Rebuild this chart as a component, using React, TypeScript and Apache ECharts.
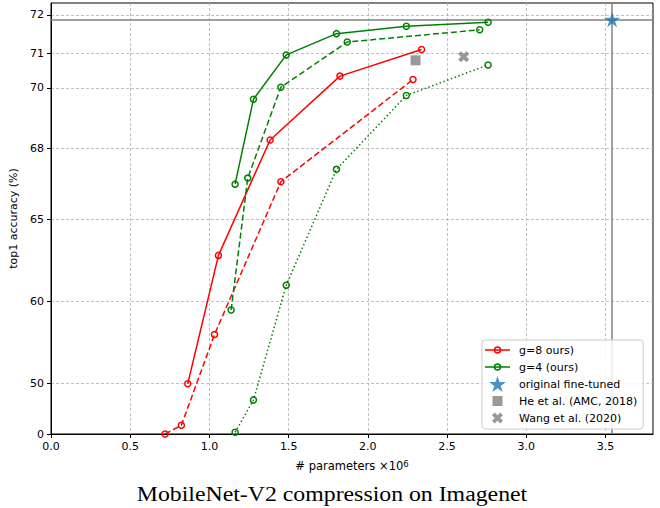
import React, { useEffect, useRef } from "react";
import * as echarts from "echarts";

// Exponential accuracy scale of the reference: axis position ∝ exp(K·acc)
const K = 0.0957;
const toAxis = (a: number) => Math.exp(K * a) - 1;
const fromAxis = (v: number) => Math.log(v + 1) / K;

const X_TICKS = [0, 0.5, 1.0, 1.5, 2.0, 2.5, 3.0, 3.5];
const Y_TICKS = [0, 50, 60, 65, 68, 70, 71, 72];
const X_MAX = 3.8;
const Y_MAX_ACC = 72.29;

// g=8 (red)
const G8_SOLID_PARAMS = [0.863, 1.057, 1.383, 1.824, 2.339];
const G8_SOLID_ACC = [49.9, 63.1, 68.3, 70.35, 71.1];
const G8_DASHED_PARAMS = [0.72, 0.823, 1.032, 1.451, 2.285];
const G8_DASHED_ACC = [0, 32.0, 57.0, 66.7, 70.25];

// g=4 (green)
const G4_PARAMS = [1.162, 1.278, 1.485, 1.802, 2.243, 2.759];
const G4_SOLID_ACC = [66.6, 69.65, 70.95, 71.52, 71.71, 71.81];
const G4_DOTTED_ACC = [16.8, 45.9, 61.2, 67.2, 69.77, 70.67];
const G4_DASHED_PARAMS = [1.137, 1.242, 1.451, 1.87, 2.706];
const G4_DASHED_ACC = [59.3, 66.85, 70.02, 71.3, 71.62];

// references
const ORIGINAL = [3.542, 71.88];
const AMC = [2.301, 70.8];
const WANG = [2.605, 70.9];

const LEGEND_NAMES = [
  "g=8 ours)",
  "g=4 (ours)",
  "original fine-tuned",
  "He et al. (AMC, 2018)",
  "Wang et al. (2020)",
];
const TITLE = "MobileNet-V2 compression on Imagenet";

const STAR =
  "path://M100 0L122.45 69.1L195.11 69.1L136.33 111.8L158.78 180.9L100 138.2L41.22 180.9L63.67 111.8L4.89 69.1L77.55 69.1Z";
const XMARK =
  "path://M50 0L100 50L150 0L200 50L150 100L200 150L150 200L100 150L50 200L0 150L50 100L0 50Z";
// legend icons (bounding box padded with move-to points)
const LEG_LINE =
  "path://M0 -4.25M25 11.75M0 3H25V4.5H0Z M8.75 3.75A3.75 3.75 0 1 1 16.25 3.75A3.75 3.75 0 1 1 8.75 3.75Z M10.25 3.75A2.25 2.25 0 1 0 14.75 3.75A2.25 2.25 0 1 0 10.25 3.75Z";
const LEG_SQUARE = "path://M0 0M16 16M3 3H13V13H3Z";
const LEG_X =
  "path://M0 0M16 16M5.25 2.5L8 5.25L10.75 2.5L13.5 5.25L10.75 8L13.5 10.75L10.75 13.5L8 10.75L5.25 13.5L2.5 10.75L5.25 8L2.5 5.25Z";

const RED = "#ff0000";
const GREEN = "#008000";
const BLUE = "#1f77b4";
const GRAY = "#808080";
const FONT = "DejaVu Sans";

const pts = (xs: number[], ys: number[]) => xs.map((x, i) => [x, toAxis(ys[i])]);

const lineSeries = (name: string, xs: number[], ys: number[], color: string, type: any) => ({
  name,
  type: "line",
  data: pts(xs, ys),
  symbol: "circle",
  symbolSize: 6,
  showSymbol: true,
  lineStyle: { color, width: 1.5, type },
  itemStyle: { color: "rgba(255,255,255,0)", borderColor: color, borderWidth: 1.5 },
  z: 3,
});

export default function App() {
  const ref = useRef<HTMLDivElement>(null);
  useEffect(() => {
    if (!ref.current) return;
    const chart = echarts.init(ref.current, undefined, { renderer: "svg" });
    const gridLine = { show: true, lineStyle: { color: "#b0b0b0", type: [3, 2], width: 0.8 } };
    chart.setOption({
      animation: false,
      backgroundColor: "#ffffff",
      graphic: [
        {
          type: "text",
          x: 332,
          y: 494,
          scaleX: 1.19,
          style: {
            text: TITLE,
            font: '20px "Liberation Serif"',
            fill: "#000",
            align: "center",
            verticalAlign: "middle",
          },
        },
      ],
      grid: { left: 51, right: 7, top: 3, bottom: 74, show: true, borderColor: "#000", borderWidth: 1 },
      xAxis: {
        type: "value",
        min: 0,
        max: X_MAX,
        name: "# parameters ×10{sup|6}",
        nameLocation: "middle",
        nameGap: 25,
        nameTextStyle: {
          fontFamily: FONT,
          fontSize: 11.5,
          color: "#000",
          rich: {
            sup: { fontFamily: FONT, fontSize: 8.5, color: "#000", verticalAlign: "top", lineHeight: 14 },
          },
        },
        axisLine: { lineStyle: { color: "#000", width: 1 } },
        axisTick: { show: true, length: 4, inside: false, customValues: X_TICKS, lineStyle: { color: "#000" } },
        axisLabel: {
          customValues: X_TICKS,
          margin: 7,
          fontFamily: FONT,
          fontSize: 11,
          color: "#000",
          formatter: (v: number) => v.toFixed(1),
        },
        splitLine: gridLine,
      },
      yAxis: {
        type: "value",
        min: 0,
        max: toAxis(Y_MAX_ACC),
        name: "top1 accuracy (%)",
        nameLocation: "middle",
        nameRotate: 90,
        nameGap: 27,
        nameTextStyle: { fontFamily: FONT, fontSize: 11, color: "#000" },
        axisLine: { show: true, lineStyle: { color: "#000", width: 1 } },
        axisTick: { show: true, length: 4, customValues: Y_TICKS.map(toAxis), lineStyle: { color: "#000" } },
        axisLabel: {
          customValues: Y_TICKS.map(toAxis),
          margin: 7,
          fontFamily: FONT,
          fontSize: 11,
          color: "#000",
          formatter: (v: number) => String(Math.round(fromAxis(v))),
        },
        splitLine: gridLine,
      },
      legend: {
        orient: "vertical",
        left: 482,
        top: 340,
        padding: [2, 6, 3, 3],
        itemWidth: 25,
        itemHeight: 16,
        itemGap: 1,
        borderColor: "#cccccc",
        borderWidth: 1,
        borderRadius: 3,
        backgroundColor: "rgba(255,255,255,0.85)",
        textStyle: { fontFamily: FONT, fontSize: 11, color: "#000", padding: [0, 0, 0, 4] },
        data: [
          { name: LEGEND_NAMES[0], icon: LEG_LINE, itemStyle: { color: RED, borderWidth: 0 } },
          { name: LEGEND_NAMES[1], icon: LEG_LINE, itemStyle: { color: GREEN, borderWidth: 0 } },
          { name: LEGEND_NAMES[2], icon: STAR, itemStyle: { color: BLUE, borderWidth: 0 } },
          { name: LEGEND_NAMES[3], icon: LEG_SQUARE, itemStyle: { color: GRAY, borderWidth: 0 } },
          { name: LEGEND_NAMES[4], icon: LEG_X, itemStyle: { color: GRAY, borderWidth: 0 } },
        ],
        z: 10,
      },
      series: [
        lineSeries(LEGEND_NAMES[0], G8_SOLID_PARAMS, G8_SOLID_ACC, RED, "solid"),
        lineSeries("g=8 dashed", G8_DASHED_PARAMS, G8_DASHED_ACC, RED, [6, 3]),
        lineSeries(LEGEND_NAMES[1], G4_PARAMS, G4_SOLID_ACC, GREEN, "solid"),
        lineSeries("g=4 dashed", G4_DASHED_PARAMS, G4_DASHED_ACC, GREEN, [6, 3]),
        lineSeries("g=4 dotted", G4_PARAMS, G4_DOTTED_ACC, GREEN, [1.5, 2.5]),
        {
          name: LEGEND_NAMES[2],
          type: "scatter",
          data: [[ORIGINAL[0], toAxis(ORIGINAL[1])]],
          symbol: STAR,
          symbolSize: 16,
          symbolKeepAspect: true,
          itemStyle: { color: BLUE },
          z: 4,
          markLine: {
            silent: true,
            symbol: "none",
            label: { show: false },
            lineStyle: { color: GRAY, width: 1.5, type: "solid" },
            data: [{ yAxis: toAxis(ORIGINAL[1]) }, { xAxis: ORIGINAL[0] }],
            z: 2,
          },
        },
        {
          name: LEGEND_NAMES[3],
          type: "scatter",
          data: [[AMC[0], toAxis(AMC[1])]],
          symbol: "rect",
          symbolSize: 10,
          itemStyle: { color: GRAY },
          z: 4,
        },
        {
          name: LEGEND_NAMES[4],
          type: "scatter",
          data: [[WANG[0], toAxis(WANG[1])]],
          symbol: XMARK,
          symbolSize: 11,
          itemStyle: { color: GRAY },
          z: 4,
        },
      ],
    });
    return () => chart.dispose();
  }, []);
  return (
    <div
      ref={ref}
      style={{ position: "absolute", left: 0, top: 0, width: 660, height: 508 }}
    />
  );
}
